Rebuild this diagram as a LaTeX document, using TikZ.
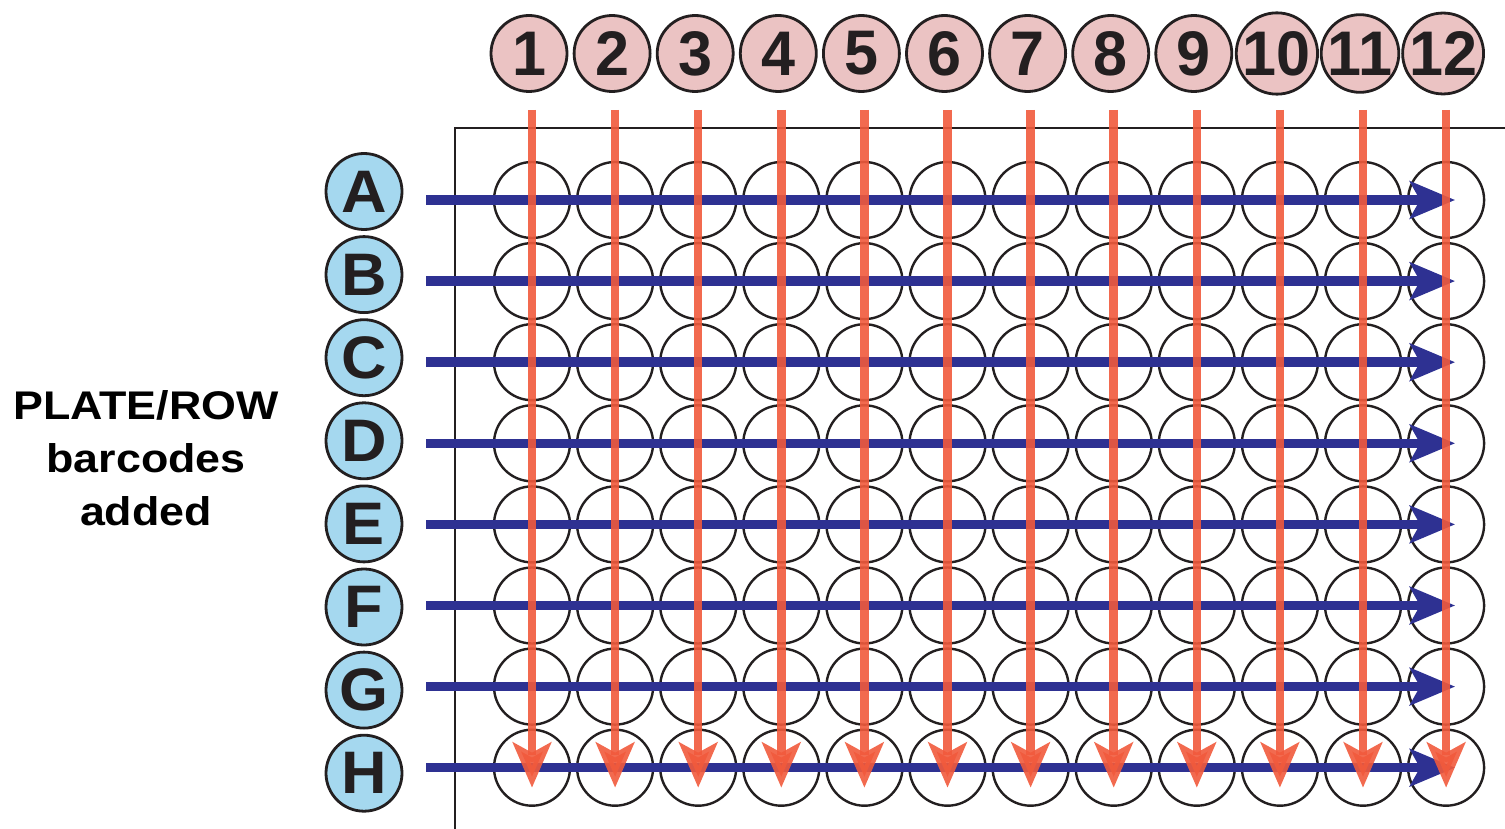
\documentclass[tikz,border=0pt]{standalone}
\usepackage{fontspec}
\setmainfont{Liberation Sans}
\usetikzlibrary{arrows.meta}
\definecolor{pinkfill}{HTML}{EBC3C3}
\definecolor{bluefill}{HTML}{A5D8EF}
\definecolor{rowblue}{HTML}{2E3192}
\definecolor{colred}{HTML}{F15A3C}
\definecolor{ink}{HTML}{231F20}
\tikzset{
  well/.style={circle, draw=ink, line width=2.4pt, minimum size=76pt, inner sep=0pt},
  numlabel/.style={circle, draw=ink, line width=2.8pt, fill=pinkfill, minimum size=76pt, inner sep=0pt,
    font=\bfseries\fontsize{63}{63}\selectfont, text=ink},
  rowlabel/.style={circle, draw=ink, line width=2.8pt, fill=bluefill, minimum size=76pt, inner sep=0pt,
    font=\bfseries\fontsize{60}{60}\selectfont, text=ink},
  rowarrow/.style={draw=rowblue, line width=9.5pt, -{Stealth[length=45pt, width=37pt, inset=10pt]}},
  colarrow/.style={draw=colred, line width=8.5pt, opacity=0.9, -{Stealth[length=45pt, width=38pt, inset=10pt]}},
  plate/.style={draw=ink, line width=2.2pt},
  sidetext/.style={align=center, font=\bfseries\fontsize{40}{53}\selectfont, text=black}
}
\begin{document}
\begin{tikzpicture}[x=1pt, y=-1pt]
\useasboundingbox (0,0) rectangle (1505,829);
% plate border
\coordinate (pb) at (455,829);
\coordinate (pc) at (455,128);
\coordinate (pr) at (1505,128);
\draw[plate] (pb) -- (pc) -- (pr);
% wells
\foreach \i in {1,...,12}{
  \foreach \j [count=\k] in {A,B,C,D,E,F,G,H}{
    \node[well] (w-\i-\j) at ({532+(\i-1)*83.1},{200+(\k-1)*81.1}) {};
  }
}
% column labels
\foreach \i in {1,...,12}{
  \node[numlabel] (n-\i) at ({529+(\i-1)*83.1},53.5) {\scalebox{0.97}[1]{\i}};
}
% row labels
\foreach \j [count=\k] in {A,B,C,D,E,F,G,H}{
  \node[rowlabel] (r-\j) at (364,{191.5+(\k-1)*83.1}) {\scalebox{1.05}[1]{\j}};
}
% side text
\node[sidetext] (side) at (146,458) {\scalebox{1.12}[1]{PLATE/ROW}\\\scalebox{1.12}[1]{barcodes}\\\scalebox{1.12}[1]{added}};
% row arrows
\foreach \j [count=\k] in {A,B,C,D,E,F,G,H}{
  \coordinate (rs-\j) at (426,{200+(\k-1)*81.1});
  \draw[rowarrow] (rs-\j) -- ([xshift=9pt]w-12-\j.center);
}
% column arrows
\foreach \i in {1,...,12}{
  \coordinate (cs-\i) at ({532+(\i-1)*83.1},110);
  \draw[colarrow] (cs-\i) -- ([yshift=-20pt]w-\i-H.center);
}
\end{tikzpicture}
\end{document}
